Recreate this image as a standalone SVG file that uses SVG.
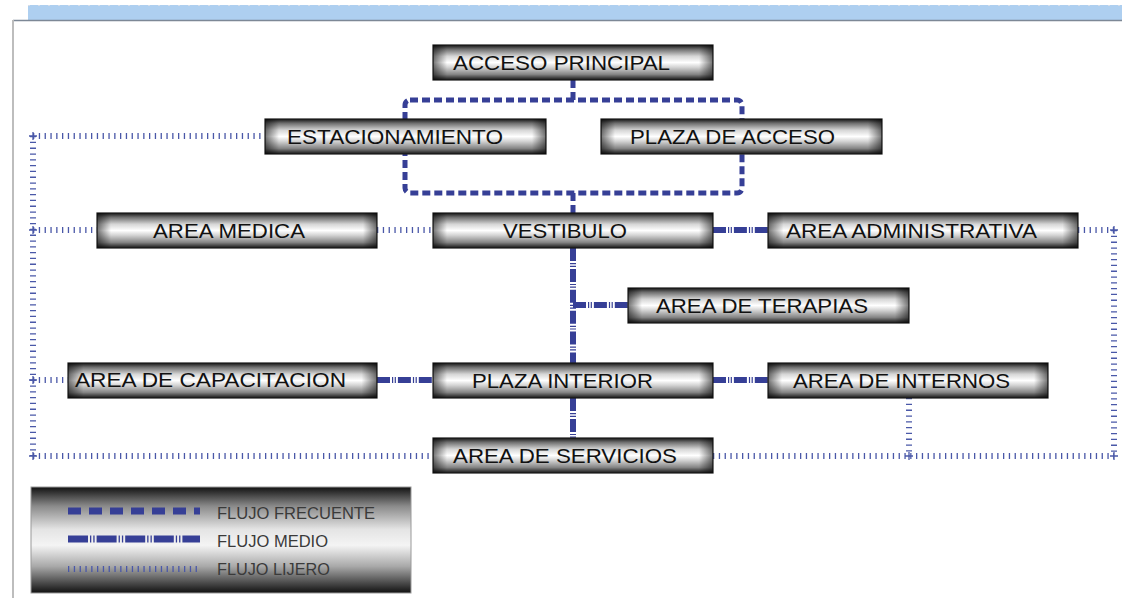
<svg xmlns="http://www.w3.org/2000/svg" width="1122" height="603" viewBox="0 0 1122 603">
  <defs>
    <!-- brushed metal bar fill -->
    <linearGradient id="metal" x1="0" y1="0" x2="0" y2="1">
      <stop offset="0" stop-color="#151515"/>
      <stop offset="0.12" stop-color="#6e6e6e"/>
      <stop offset="0.32" stop-color="#d6d6d6"/>
      <stop offset="0.5" stop-color="#ffffff"/>
      <stop offset="0.64" stop-color="#d2d2d2"/>
      <stop offset="0.84" stop-color="#858585"/>
      <stop offset="1" stop-color="#151515"/>
    </linearGradient>
    <linearGradient id="ends" x1="0" y1="0" x2="1" y2="0">
      <stop offset="0" stop-color="#000" stop-opacity="0.55"/>
      <stop offset="0.05" stop-color="#000" stop-opacity="0"/>
      <stop offset="0.95" stop-color="#000" stop-opacity="0"/>
      <stop offset="1" stop-color="#000" stop-opacity="0.55"/>
    </linearGradient>
    <linearGradient id="legendFill" x1="0" y1="0" x2="0" y2="1">
      <stop offset="0" stop-color="#111"/>
      <stop offset="0.18" stop-color="#8a8a8a"/>
      <stop offset="0.4" stop-color="#e4e4e4"/>
      <stop offset="0.55" stop-color="#f4f4f4"/>
      <stop offset="0.75" stop-color="#a8a8a8"/>
      <stop offset="1" stop-color="#111"/>
    </linearGradient>
    <style>
      .bar { fill: url(#metal); stroke: #1c1c1c; stroke-width: 1.2; }
      .barEnds { fill: url(#ends); stroke: none; }
      .lbl { font-family: "Liberation Sans", Arial, sans-serif; font-size: 21px; fill: #111; }
      .leg { font-family: "Liberation Sans", Arial, sans-serif; font-size: 16px; fill: #3a3a3a; }
      .freq { fill: none; stroke: #363f96; stroke-width: 5; stroke-dasharray: 8 4; stroke-linejoin: round; }
      .med { fill: none; stroke: #363f96; stroke-width: 6; stroke-dasharray: 13 2 1.2 1.5 1.2 2; }
      .lite { fill: none; stroke: #4a58a8; stroke-width: 6; stroke-dasharray: 1.3 4.5; }
      .plus { fill: none; stroke: #4a58a8; stroke-width: 1.3; }
    </style>
  </defs>

  <!-- page frame -->
  <rect x="0" y="0" width="1122" height="603" fill="#ffffff"/>
  <rect x="28" y="5" width="1094" height="15" fill="#aecff0"/>
  <line x1="28" y1="5.5" x2="1122" y2="5.5" stroke="#d6dde8" stroke-width="1" stroke-dasharray="2 8"/>
  <line x1="13" y1="20.5" x2="1122" y2="20.5" stroke="#7d8896" stroke-width="1.5"/>
  <line x1="13" y1="20" x2="13" y2="598" stroke="#bdbdbd" stroke-width="2"/>

  <!-- connectors -->
  <g id="connectors">
    <!-- frequent flow -->
    <path class="freq" d="M573,80 V100"/>
    <rect class="freq" x="405" y="100" width="337" height="93" rx="5"/>
    <path class="freq" d="M573,193 V213"/>
    <!-- medium flow -->
    <path class="med" d="M573,248 V363"/>
    <path class="med" d="M573,305 H628"/>
    <path class="med" d="M713,230 H768"/>
    <path class="med" d="M377,380 H433"/>
    <path class="med" d="M713,380 H768"/>
    <path class="med" d="M573,398 V438"/>
    <!-- light flow -->
    <path class="lite" d="M33,136 H265"/>
    <path class="lite" d="M33,136 V456"/>
    <path class="lite" d="M33,230 H97"/>
    <path class="lite" d="M33,380 H68"/>
    <path class="lite" d="M33,456 H433"/>
    <path class="lite" d="M377,230 H433"/>
    <path class="lite" d="M1078,230 H1114"/>
    <path class="lite" d="M1114,230 V456"/>
    <path class="lite" d="M713,456 H1114"/>
    <path class="lite" d="M909,398 V456"/>
    <path class="plus" d="M29,136 H37 M33,132 V140 M29,230 H37 M33,226 V234 M29,380 H37 M33,376 V384 M29,456 H37 M33,452 V460 M1110,230 H1118 M1114,226 V234 M1110,456 H1118 M1114,452 V460 M905,456 H913 M909,452 V460"/>
  </g>

  <!-- nodes -->
  <g id="acceso-principal">
    <rect class="bar" x="433" y="45" width="280" height="35"/>
    <rect class="barEnds" x="433" y="45" width="280" height="35"/>
    <text class="lbl" x="453" y="69.5" textLength="217" lengthAdjust="spacingAndGlyphs">ACCESO PRINCIPAL</text>
  </g>
  <g id="estacionamiento">
    <rect class="bar" x="265" y="119" width="281" height="35"/>
    <rect class="barEnds" x="265" y="119" width="281" height="35"/>
    <text class="lbl" x="287" y="144" textLength="216" lengthAdjust="spacingAndGlyphs">ESTACIONAMIENTO</text>
  </g>
  <g id="plaza-de-acceso">
    <rect class="bar" x="601" y="119" width="281" height="35"/>
    <rect class="barEnds" x="601" y="119" width="281" height="35"/>
    <text class="lbl" x="630" y="144" textLength="205" lengthAdjust="spacingAndGlyphs">PLAZA DE ACCESO</text>
  </g>
  <g id="area-medica">
    <rect class="bar" x="97" y="213" width="280" height="35"/>
    <rect class="barEnds" x="97" y="213" width="280" height="35"/>
    <text class="lbl" x="153" y="238" textLength="152" lengthAdjust="spacingAndGlyphs">AREA MEDICA</text>
  </g>
  <g id="vestibulo">
    <rect class="bar" x="433" y="213" width="280" height="35"/>
    <rect class="barEnds" x="433" y="213" width="280" height="35"/>
    <text class="lbl" x="503" y="238" textLength="124" lengthAdjust="spacingAndGlyphs">VESTIBULO</text>
  </g>
  <g id="area-administrativa">
    <rect class="bar" x="768" y="213" width="310" height="35"/>
    <rect class="barEnds" x="768" y="213" width="310" height="35"/>
    <text class="lbl" x="786" y="238" textLength="251" lengthAdjust="spacingAndGlyphs">AREA ADMINISTRATIVA</text>
  </g>
  <g id="area-de-terapias">
    <rect class="bar" x="628" y="288" width="281" height="35"/>
    <rect class="barEnds" x="628" y="288" width="281" height="35"/>
    <text class="lbl" x="656" y="313" textLength="212" lengthAdjust="spacingAndGlyphs">AREA DE TERAPIAS</text>
  </g>
  <g id="area-de-capacitacion">
    <rect class="bar" x="68" y="363" width="309" height="35"/>
    <rect class="barEnds" x="68" y="363" width="309" height="35"/>
    <text class="lbl" x="75" y="387" textLength="271" lengthAdjust="spacingAndGlyphs">AREA DE CAPACITACION</text>
  </g>
  <g id="plaza-interior">
    <rect class="bar" x="433" y="363" width="280" height="35"/>
    <rect class="barEnds" x="433" y="363" width="280" height="35"/>
    <text class="lbl" x="472" y="388" textLength="181" lengthAdjust="spacingAndGlyphs">PLAZA INTERIOR</text>
  </g>
  <g id="area-de-internos">
    <rect class="bar" x="768" y="363" width="280" height="35"/>
    <rect class="barEnds" x="768" y="363" width="280" height="35"/>
    <text class="lbl" x="793" y="388" textLength="217" lengthAdjust="spacingAndGlyphs">AREA DE INTERNOS</text>
  </g>
  <g id="area-de-servicios">
    <rect class="bar" x="433" y="438" width="280" height="35"/>
    <rect class="barEnds" x="433" y="438" width="280" height="35"/>
    <text class="lbl" x="453" y="463" textLength="224" lengthAdjust="spacingAndGlyphs">AREA DE SERVICIOS</text>
  </g>

  <!-- legend -->
  <g id="legend">
    <rect x="31" y="487" width="380" height="106" fill="url(#legendFill)" stroke="#9a9a9a" stroke-width="1"/>
    <path d="M68,511 H200" fill="none" stroke="#363f96" stroke-width="7" stroke-dasharray="13 8"/>
    <path d="M68,539 H200" fill="none" stroke="#363f96" stroke-width="7" stroke-dasharray="20 2 1.3 2 1.3 2"/>
    <path d="M68,569 H200" fill="none" stroke="#4a58a8" stroke-width="6" stroke-dasharray="1.3 4.5"/>
    <text class="leg" x="217" y="519" textLength="158" lengthAdjust="spacingAndGlyphs">FLUJO FRECUENTE</text>
    <text class="leg" x="217" y="547" textLength="111" lengthAdjust="spacingAndGlyphs">FLUJO MEDIO</text>
    <text class="leg" x="217" y="575" textLength="113" lengthAdjust="spacingAndGlyphs">FLUJO LIJERO</text>
  </g>
</svg>
